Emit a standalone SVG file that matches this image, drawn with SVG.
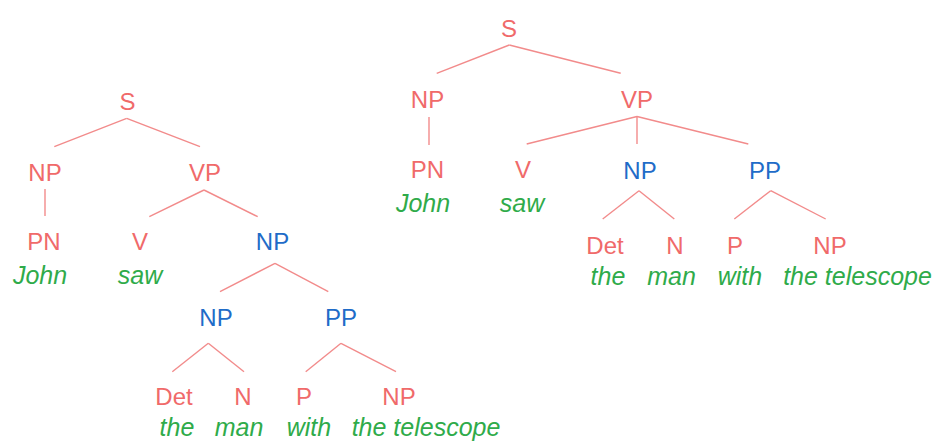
<svg xmlns="http://www.w3.org/2000/svg" width="937" height="442" viewBox="0 0 937 442">
<style>
.bg{fill:#ffffff}
.c line{stroke:#f28b8b;stroke-width:1.4;fill:none}
text{font-family:"Liberation Sans",Arial,sans-serif;text-anchor:middle}
.r{fill:#f06a6a;font-size:24px}
.b{fill:#1f6cc8;font-size:24px}
.g{fill:#2fab4a;font-size:25px;font-style:italic}
</style>
<rect class="bg" width="937" height="442"/>
<g id="connectors" class="c">
<line x1="126.7" y1="118.3" x2="54.3" y2="146.7"/>
<line x1="126.7" y1="118.3" x2="200" y2="146.7"/>
<line x1="45" y1="189" x2="45" y2="216"/>
<line x1="204" y1="190" x2="149.3" y2="216.7"/>
<line x1="204" y1="190" x2="257.7" y2="216.7"/>
<line x1="275" y1="263.3" x2="220" y2="291.7"/>
<line x1="275" y1="263.3" x2="328.3" y2="291.7"/>
<line x1="208.3" y1="343.3" x2="172.3" y2="371.7"/>
<line x1="208.3" y1="343.3" x2="244" y2="371.7"/>
<line x1="341" y1="343.3" x2="305.7" y2="371.7"/>
<line x1="341" y1="343.3" x2="396" y2="371.7"/>
<line x1="509.3" y1="45" x2="436.7" y2="73.3"/>
<line x1="509.3" y1="45" x2="620.7" y2="73.3"/>
<line x1="429" y1="117" x2="429" y2="145"/>
<line x1="637" y1="116.5" x2="526.7" y2="144"/>
<line x1="637" y1="116.5" x2="637" y2="144"/>
<line x1="637" y1="116.5" x2="748.3" y2="144"/>
<line x1="639" y1="190.7" x2="602.7" y2="219"/>
<line x1="639" y1="190.7" x2="674.3" y2="219"/>
<line x1="770.7" y1="190.7" x2="734.3" y2="219"/>
<line x1="770.7" y1="190.7" x2="825.7" y2="219"/>
</g>
<g id="left-S"><text class="r" x="127.5" y="110">S</text></g>
<g id="left-NP"><text class="r" x="45" y="181">NP</text></g>
<g id="left-VP"><text class="r" x="205" y="181">VP</text></g>
<g id="left-PN"><text class="r" x="44" y="250">PN</text><text class="g" x="40" y="284">John</text></g>
<g id="left-V"><text class="r" x="140" y="250">V</text><text class="g" x="140" y="284">saw</text></g>
<g id="left-NP2"><text class="b" x="272.5" y="250">NP</text></g>
<g id="left-NP3"><text class="b" x="216" y="326">NP</text></g>
<g id="left-PP"><text class="b" x="341" y="326">PP</text></g>
<g id="left-Det"><text class="r" x="174" y="405">Det</text><text class="g" x="177" y="436">the</text></g>
<g id="left-N"><text class="r" x="243" y="405">N</text><text class="g" x="239" y="436">man</text></g>
<g id="left-P"><text class="r" x="304" y="405">P</text><text class="g" x="309" y="436">with</text></g>
<g id="left-NP4"><text class="r" x="399" y="405">NP</text><text class="g" x="426" y="436">the telescope</text></g>
<g id="right-S"><text class="r" x="509" y="36.5">S</text></g>
<g id="right-NP"><text class="r" x="427.5" y="108">NP</text></g>
<g id="right-VP"><text class="r" x="637" y="108">VP</text></g>
<g id="right-PN"><text class="r" x="427.5" y="178">PN</text><text class="g" x="423" y="212">John</text></g>
<g id="right-V"><text class="r" x="523" y="178">V</text><text class="g" x="522" y="212">saw</text></g>
<g id="right-NP2"><text class="b" x="640" y="178.5">NP</text></g>
<g id="right-PP"><text class="b" x="765" y="178.5">PP</text></g>
<g id="right-Det"><text class="r" x="605" y="254">Det</text><text class="g" x="608" y="285">the</text></g>
<g id="right-N"><text class="r" x="675" y="254">N</text><text class="g" x="671.5" y="285">man</text></g>
<g id="right-P"><text class="r" x="735" y="254">P</text><text class="g" x="740" y="285">with</text></g>
<g id="right-NP3"><text class="r" x="830" y="254">NP</text><text class="g" x="857.5" y="285">the telescope</text></g>
</svg>
